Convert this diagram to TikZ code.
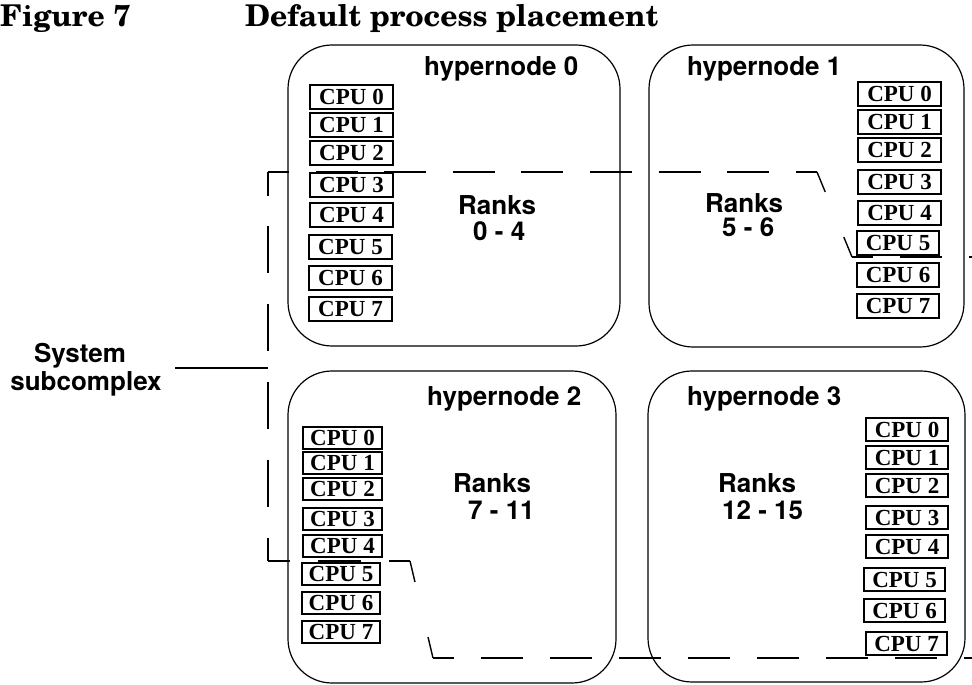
\documentclass[tikz,border=0pt]{standalone}
\usepackage{fontspec}
\newfontfamily\hvfont{TeX Gyre Heros}
\newfontfamily\tmfont{Liberation Serif}
\newfontfamily\scfont{TeX Gyre Schola}
\begin{document}
\begin{tikzpicture}[x=1pt,y=-1pt,
  hyper/.style={draw, line width=1.2pt, rounded corners=44pt, inner sep=0pt, outer sep=0pt},
  cpu/.style={draw, line width=1.1pt, inner sep=0pt, outer sep=0pt, anchor=north west,
              font=\tmfont\bfseries\fontsize{23}{23}\selectfont},
  lbl/.style={inner sep=0pt, anchor=base west, font=\hvfont\bfseries\fontsize{26}{28}\selectfont},
  ttl/.style={inner sep=0pt, anchor=base west, font=\scfont\bfseries\fontsize{30}{32}\selectfont},
  subline/.style={line width=1.4pt}]
\useasboundingbox (0,0) rectangle (972,685);

% titles
\node[ttl] (fig) at (0,27) {Figure 7};
\node[ttl] (title) at (245,27) {Default process placement};

% hypernodes
\node[hyper, minimum width=332, minimum height=301] (h0) at (454,195.5) {};
\node[hyper, minimum width=315, minimum height=302] (h1) at (806.5,196) {};
\node[hyper, minimum width=328, minimum height=312] (h2) at (452,527) {};
\node[hyper, minimum width=317, minimum height=311] (h3) at (806.5,526.5) {};

% hypernode labels
\node[lbl] (l0) at (424,76) {hypernode 0};
\node[lbl] (l1) at (687,76) {hypernode 1};
\node[lbl] (l2) at (427,405) {hypernode 2};
\node[lbl] (l3) at (687,405) {hypernode 3};

% ranks
\node[lbl] (r0a) at (458,214) {Ranks};
\node[lbl] (r0b) at (473,240) {0 - 4};
\node[lbl] (r1a) at (705,212) {Ranks};
\node[lbl] (r1b) at (722,236) {5 - 6};
\node[lbl] (r2a) at (453,492) {Ranks};
\node[lbl] (r2b) at (468,519) {7 - 11};
\node[lbl] (r3a) at (718,492) {Ranks};
\node[lbl] (r3b) at (722,519) {12 - 15};

% CPUs of hypernode 0
\foreach \n/\x/\y/\w in {0/310/85/83,1/310/113/83,2/310/141/83,3/310/173/83,4/310/203/83,5/309/235/83,6/309/266/83,7/309/297/83}
  \node[cpu, minimum width=\w, minimum height=24] (a\n) at (\x,\y) {CPU \n};
% CPUs of hypernode 1
\foreach \n/\x/\y/\w in {0/858/82/83,1/858/110/83,2/858/138/83,3/858/170/83,4/858/201/83,5/857/231/82,6/857/263/82,7/857/294/82}
  \node[cpu, minimum width=\w, minimum height=24] (b\n) at (\x,\y) {CPU \n};
% CPUs of hypernode 2
\foreach \n/\x/\y/\w in {0/303/427/79,1/303/452/79,2/303/478/79,3/303/508/79,4/303/535/79,5/302/563/78,6/302/592/78,7/302/621/78}
  \node[cpu, minimum width=\w, minimum height=22] (c\n) at (\x,\y) {CPU \n};
% CPUs of hypernode 3
\foreach \n/\x/\y/\w in {0/866/418/82,1/866/446/82,2/866/474/82,3/866/506/82,4/866/535/82,5/864/568/81,6/864/599/81,7/866/632/81}
  \node[cpu, minimum width=\w, minimum height=23] (d\n) at (\x,\y) {CPU \n};

% system subcomplex label
\node[lbl, anchor=base] (sys1) at (80,362) {System};
\node[lbl, anchor=base] (sys2) at (86,390) {subcomplex};

% outline of the subcomplex
\coordinate (tl) at (268,172);
\coordinate (bl) at (268,561);
\coordinate (tr) at (817,172);
\coordinate (tr2) at (852,257);
\coordinate (re) at (972,257);
\coordinate (bre) at (972,658);
\coordinate (br) at (433,658);
\coordinate (br2) at (410,561);
\coordinate (lead) at (175,368);
\coordinate (leadend) at (268,368);

\draw[subline, dash pattern=on 47pt off 30.8pt, dash phase=23.5pt] (tl) -- (bl);
\draw[subline, dash pattern=on 42pt off 26.6pt, dash phase=21pt] (tl) -- (tr);
\draw[subline, dash pattern=on 43pt off 48.9pt, dash phase=21.5pt] (tr) -- (tr2);
\draw[subline, dash pattern=on 42pt off 27pt, dash phase=21pt] (tr2) -- (re);
\draw[subline, dash pattern=on 42pt off 27pt, dash phase=21pt] (br) -- (bre);
\draw[subline, dash pattern=on 43pt off 56.7pt, dash phase=21.5pt] (br) -- (br2);
\draw[subline, dash pattern=on 43pt off 28pt, dash phase=21.5pt] (br2) -- (bl);
\draw[subline] (lead) -- (leadend);
\end{tikzpicture}
\end{document}
